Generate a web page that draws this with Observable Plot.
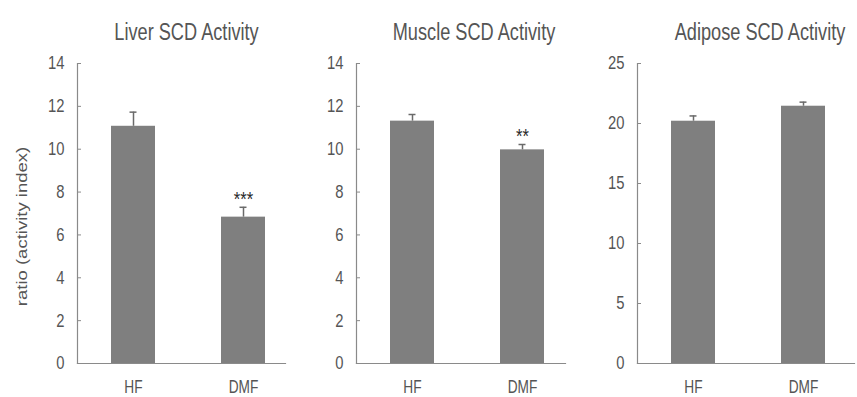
<!DOCTYPE html>
<html><head><meta charset="utf-8">
<script src="https://cdn.jsdelivr.net/npm/d3@7"></script>
<script src="https://cdn.jsdelivr.net/npm/@observablehq/plot@0.6"></script>
<style>
body{margin:0;background:#fff}
#wrap{position:relative;width:857px;height:397px;overflow:hidden;background:#fff}
#wrap svg{position:absolute;top:0}
</style></head><body><div id="wrap"></div>
<script>
// ---- data ----
const groups = ["HF", "DMF"];
const titles = ["Liver SCD Activity", "Muscle SCD Activity", "Adipose SCD Activity"];
const liverMean = [11.07, 6.83];
const liverErr = [0.66, 0.46];
const muscleMean = [11.31, 9.97];
const muscleErr = [0.31, 0.25];
const adiposeMean = [20.19, 21.44];
const adiposeErr = [0.44, 0.34];
const liverSig = ["", "***"];
const muscleSig = ["", "**"];
const adiposeSig = ["", ""];
const yMaxes = [14, 14, 25];
const liverTicks = [0, 2, 4, 6, 8, 10, 12, 14];
const muscleTicks = [0, 2, 4, 6, 8, 10, 12, 14];
const adiposeTicks = [0, 5, 10, 15, 20, 25];
const yLabel = "ratio (activity index)";

// ---- styling / layout ----
const FONT = "'Liberation Sans', Arial, Helvetica, sans-serif";
const AXIS = "#8a8a8a", TEXT = "#555555", BAR = "#7f7f7f", ERR = "#6a6a6a";
const panels = [
  {title: titles[0], mean: liverMean, err: liverErr, sig: liverSig, yMax: yMaxes[0], ticks: liverTicks, left: 0, width: 290, ml: 77, mr: 5, tdx: 5, label: true},
  {title: titles[1], mean: muscleMean, err: muscleErr, sig: muscleSig, yMax: yMaxes[1], ticks: muscleTicks, left: 290, width: 280, ml: 66, mr: 5, tdx: 13, label: false},
  {title: titles[2], mean: adiposeMean, err: adiposeErr, sig: adiposeSig, yMax: yMaxes[2], ticks: adiposeTicks, left: 570, width: 287, ml: 67, mr: 3, tdx: 14, label: false}
];

const wrap = document.getElementById("wrap");
for (const p of panels) {
  const data = groups.map((g, i) => ({g, v: p.mean[i], top: p.mean[i] + p.err[i], s: p.sig[i]}));
  const frameW = p.width - p.ml - p.mr;
  const marks = [
    Plot.barY(data, {x: "g", y: "v", fill: BAR}),
    Plot.ruleX(data, {x: "g", y1: "v", y2: "top", stroke: ERR, strokeWidth: 1.5}),
    Plot.tickY(data, {x: "g", y: "top", stroke: ERR, strokeWidth: 1.5, insetLeft: 18.5, insetRight: 18.5}),
    Plot.text(data.filter(d => d.s), {x: "g", y: "top", text: "s", dy: -8, fontSize: 21, fill: "#2a2a2a", className: "sig"}),
    Plot.tickY(p.ticks, {y: d => d, stroke: AXIS, insetRight: frameW - 4}),
    Plot.frame({anchor: "left", stroke: AXIS, strokeWidth: 1.2}),
    Plot.frame({anchor: "bottom", stroke: AXIS, strokeWidth: 1.2}),
    Plot.axisY(p.ticks, {tickSize: 0, tickPadding: 13, fontSize: 18.5, label: null, className: "yt"}),
    Plot.axisX({tickSize: 0, tickPadding: 16, fontSize: 18.5, label: null, className: "xt"}),
    Plot.text([p.title], {frameAnchor: "top", textAnchor: "middle", dx: p.tdx, dy: -40, fontSize: 23, fill: TEXT, className: "ttl"})
  ];
  if (p.label) {
    marks.push(Plot.text([yLabel], {frameAnchor: "left", textAnchor: "middle", rotate: -90, dx: -55, dy: 13, fontSize: 18.5, fill: TEXT, className: "ylab"}));
  }
  const svg = Plot.plot({
    width: p.width,
    height: 397,
    marginLeft: p.ml,
    marginRight: p.mr,
    marginTop: 63,
    marginBottom: 34,
    style: {fontFamily: FONT, fontSize: "16px", color: TEXT, background: "transparent", overflow: "visible"},
    x: {domain: groups, range: [p.ml, p.ml + 221], paddingInner: 0.6, paddingOuter: 0.3, axis: null},
    y: {domain: [0, p.yMax], axis: null},
    marks
  });
  svg.style.left = p.left + "px";
  wrap.appendChild(svg);
  // horizontally condense the upright texts, as in the reference
  svg.querySelectorAll("text").forEach(t => {
    if (t.closest(".ylab")) {
      t.setAttribute("transform", (t.getAttribute("transform") || "") + " scale(1,0.8)");
      return;
    }
    const squish = t.closest(".xt") ? 0.74 : t.closest(".yt") ? 0.8 : 0.79;
    const len = t.getComputedTextLength();
    if (len > 0) {
      t.setAttribute("textLength", (len * squish).toFixed(2));
      t.setAttribute("lengthAdjust", "spacingAndGlyphs");
    }
  });
}
</script></body></html>
